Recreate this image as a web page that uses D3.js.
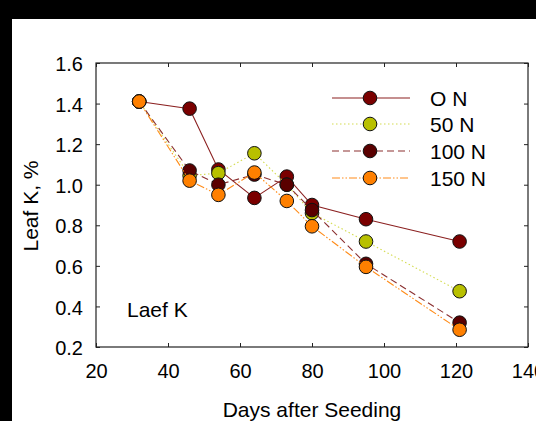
<!DOCTYPE html>
<html><head><meta charset="utf-8">
<script src="https://cdn.jsdelivr.net/npm/d3@7"></script>
<style>body{margin:0;background:#fff}svg{display:block}text{font-family:"Liberation Sans",Arial,sans-serif;fill:#000}</style>
</head><body>
<script>
const days = [32, 46, 54, 64, 73, 80, 95, 121];
const seriesNames = ["O N", "50 N", "100 N", "150 N"];
const n0   = [1.41, 1.375, 1.075, 0.935, 1.04, 0.90, 0.83, 0.72];
const n50  = [1.41, 1.045, 1.057, 1.155, 1.00, 0.86, 0.72, 0.475];
const n100 = [1.41, 1.07, 1.00, 1.05, 1.00, 0.875, 0.61, 0.32];
const n150 = [1.41, 1.02, 0.95, 1.06, 0.92, 0.795, 0.595, 0.285];
const xTicks = [20, 40, 60, 80, 100, 120, 140];
const yTicks = [0.2, 0.4, 0.6, 0.8, 1.0, 1.2, 1.4, 1.6];

const styles = [
  {fill:"#7a0000", line:"#8b2020", dash:null},
  {fill:"#b8c000", line:"#d4dc50", dash:"1.5,2.5"},
  {fill:"#5a0000", line:"#8b3030", dash:"7,4"},
  {fill:"#ff8000", line:"#ff8c1a", dash:"8,2,1.5,2,1.5,2"}
];
const data = [n0, n50, n100, n150];

const W = 536, H = 421;
const svg = d3.select("body").append("svg").attr("width", W).attr("height", H);
svg.append("rect").attr("width", W).attr("height", 19).attr("fill", "#000");
svg.append("rect").attr("width", 12).attr("height", H).attr("fill", "#000");

const x = d3.scaleLinear().domain([20, 140]).range([96, 528]);
const y = d3.scaleLinear().domain([0.2, 1.6]).range([347, 63]);

const g = svg.append("g");
g.append("rect").attr("x", x(20)).attr("y", y(1.6)).attr("width", x(140)-x(20)).attr("height", y(0.2)-y(1.6))
  .attr("fill", "none").attr("stroke", "#222").attr("stroke-width", 1.2);

const fs = 20;
const xb = g.append("g").attr("transform", `translate(0,${y(0.2)})`)
  .call(d3.axisBottom(x).tickValues(xTicks).tickSize(-4).tickPadding(17).tickFormat(d3.format("d")));
const xt = g.append("g").attr("transform", `translate(0,${y(1.6)})`)
  .call(d3.axisTop(x).tickValues(xTicks).tickSize(-4).tickFormat(""));
const yl = g.append("g").attr("transform", `translate(${x(20)},0)`)
  .call(d3.axisLeft(y).tickValues(yTicks).tickSize(-4).tickPadding(13).tickFormat(d3.format(".1f")));
const yr = g.append("g").attr("transform", `translate(${x(140)},0)`)
  .call(d3.axisRight(y).tickValues(yTicks).tickSize(-4).tickFormat(""));
[xb, xt, yl, yr].forEach(a => {
  a.select(".domain").remove();
  a.selectAll(".tick line").attr("stroke", "#222");
  a.selectAll("text").style("font-size", fs + "px").style("font-family", '"Liberation Sans",Arial,sans-serif');
});
yl.selectAll("text").attr("dy", "0.38em");

const line = d3.line().x((d, i) => x(days[i])).y(d => y(d));
data.forEach((vals, si) => {
  const s = styles[si];
  const sg = g.append("g");
  sg.append("path").datum(vals).attr("d", line).attr("fill", "none")
    .attr("stroke", s.line).attr("stroke-width", 1.1).attr("stroke-dasharray", s.dash);
  sg.selectAll("circle").data(vals).join("circle")
    .attr("cx", (d, i) => x(days[i])).attr("cy", d => y(d)).attr("r", 6.8)
    .attr("fill", s.fill).attr("stroke", "#111").attr("stroke-width", 1);
});

const lg = svg.append("g");
const rows = [98, 124, 151, 178];
seriesNames.forEach((name, i) => {
  const s = styles[i];
  lg.append("line").attr("x1", 332).attr("x2", 410).attr("y1", rows[i]).attr("y2", rows[i])
    .attr("stroke", s.line).attr("stroke-width", 1.1).attr("stroke-dasharray", s.dash);
  lg.append("circle").attr("cx", 370).attr("cy", rows[i]).attr("r", 6.8)
    .attr("fill", s.fill).attr("stroke", "#111");
  lg.append("text").attr("x", 430).attr("y", rows[i] + 8).style("font-size", "21px").text(name);
});

svg.append("text").attr("x", 127).attr("y", 317).style("font-size", "21px").text("Laef K");
svg.append("text").attr("x", 312).attr("y", 417).attr("text-anchor", "middle").style("font-size", "21px").text("Days after Seeding");
svg.append("text").attr("transform", "translate(38,206) rotate(-90)").attr("text-anchor", "middle").style("font-size", "21px").text("Leaf K, %");
</script>
</body></html>
